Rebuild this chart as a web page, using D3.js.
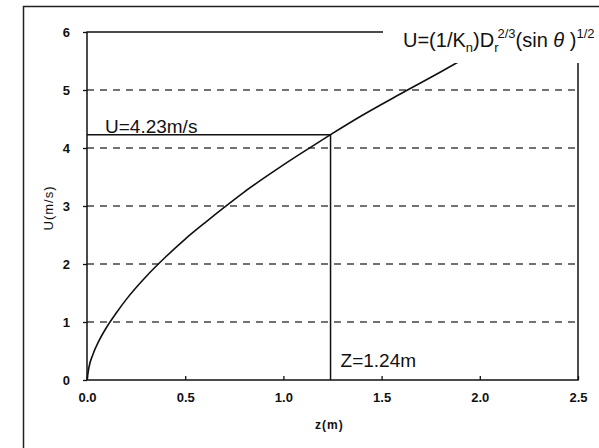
<!DOCTYPE html>
<html>
<head>
<meta charset="utf-8">
<script src="https://cdn.jsdelivr.net/npm/d3@7"></script>
<style>
  body { margin: 0; background: #fff; }
  svg { display: block; }
</style>
</head>
<body>
<div id="chart"></div>
<script>
// values
const zValues = [0, 0.01, 0.03, 0.06, 0.1, 0.15, 0.2, 0.3, 0.4, 0.5, 0.6, 0.7, 0.8, 0.9, 1.0, 1.1, 1.24, 1.4, 1.6, 1.8, 1.91];
const uValues = [0, 0.22, 0.44, 0.67, 0.91, 1.16, 1.39, 1.78, 2.12, 2.43, 2.71, 2.98, 3.24, 3.48, 3.71, 3.93, 4.23, 4.56, 4.94, 5.31, 5.52];
const xTicks = [0, 0.5, 1.0, 1.5, 2.0, 2.5];
const yTicks = [0, 1, 2, 3, 4, 5, 6];
const markZ = 1.24;
const markU = 4.23;

const W = 599, H = 448;
const margin = { top: 32, right: 21, bottom: 68, left: 87 };
const font = "Arial, 'Liberation Sans', sans-serif";

const svg = d3.select("#chart").append("svg").attr("width", W).attr("height", H);

// outer frame
svg.append("rect")
    .attr("x", 23.5).attr("y", 6.5).attr("width", W).attr("height", H)
    .attr("fill", "none").attr("stroke", "#222").attr("stroke-width", 1.5);

const x = d3.scaleLinear().domain([0, 2.5]).range([margin.left, W - margin.right]);
const y = d3.scaleLinear().domain([0, 6]).range([H - margin.bottom, margin.top]);

// dashed grid lines
svg.append("g").selectAll("line").data(yTicks.filter(d => d > 0 && d < 6)).join("line")
    .attr("x1", x(0)).attr("x2", x(2.5))
    .attr("y1", d => y(d)).attr("y2", d => y(d))
    .attr("stroke", "#444").attr("stroke-width", 1.3).attr("stroke-dasharray", "7,6");

// plot frame
svg.append("rect")
    .attr("x", x(0)).attr("y", y(6)).attr("width", x(2.5) - x(0)).attr("height", y(0) - y(6))
    .attr("fill", "none").attr("stroke", "#111").attr("stroke-width", 1.5);

// axes
const xAxis = svg.append("g").attr("transform", `translate(0,${y(0)})`)
    .call(d3.axisBottom(x).tickValues(xTicks).tickFormat(d3.format(".1f")).tickSizeInner(-4).tickSizeOuter(0).tickPadding(13));
const yAxis = svg.append("g").attr("transform", `translate(${x(0)},0)`)
    .call(d3.axisLeft(y).tickValues(yTicks).tickFormat(d3.format("d")).tickSizeInner(4).tickSizeOuter(0).tickPadding(13));
[xAxis, yAxis].forEach(a => {
    a.select(".domain").remove();
    a.selectAll("line").attr("stroke", "#111").attr("stroke-width", 1.3);
    a.selectAll("text").attr("font-family", font)
        .attr("font-size", 13).attr("font-weight", "bold").attr("fill", "#111");
});

// axis titles
svg.append("text")
    .attr("x", 315).attr("y", 429)
    .attr("font-family", font).attr("font-size", 12).attr("font-weight", "bold")
    .attr("letter-spacing", 1).attr("fill", "#111")
    .text("z(m)");
svg.append("text")
    .attr("transform", "translate(53,208) rotate(-90)")
    .attr("text-anchor", "middle")
    .attr("font-family", font).attr("font-size", 13)
    .attr("letter-spacing", 1).attr("fill", "#111")
    .text("U(m/s)");

// reference lines at the marked point
svg.append("path")
    .attr("d", `M${x(0)},${y(markU)}H${x(markZ)}V${y(0)}`)
    .attr("fill", "none").attr("stroke", "#111").attr("stroke-width", 1.5);

// curve
const points = zValues.map((z, i) => [z, uValues[i]]);
const line = d3.line().x(d => x(d[0])).y(d => y(d[1])).curve(d3.curveMonotoneX);
svg.append("path").datum(points)
    .attr("d", line)
    .attr("fill", "none").attr("stroke", "#111").attr("stroke-width", 1.6);

// labels
svg.append("text")
    .attr("x", x(0) + 18).attr("y", y(markU) - 2)
    .attr("font-family", font).attr("font-size", 19).attr("fill", "#111")
    .text(`U=${markU}m/s`);
svg.append("text")
    .attr("x", x(markZ) + 10).attr("y", y(0) - 13)
    .attr("font-family", font).attr("font-size", 19).attr("fill", "#111")
    .text(`Z=${markZ}m`);

// formula label with white backing that breaks the plot frame
const fg = svg.append("g");
const bg = fg.append("rect").attr("fill", "#fff");
const formula = fg.append("text")
    .attr("x", 403).attr("y", 47)
    .attr("font-family", font).attr("font-size", 20).attr("fill", "#111");
formula.append("tspan").text("U=(1/K");
formula.append("tspan").attr("font-size", 13).attr("dy", 5).text("n");
formula.append("tspan").attr("dy", -5).text(")D");
formula.append("tspan").attr("font-size", 13).attr("dy", 5).text("r");
formula.append("tspan").attr("font-size", 13).attr("dx", -1).attr("dy", -14).text("2/3");
formula.append("tspan").attr("dy", 9).text("(sin");
formula.append("tspan").attr("font-style", "italic").text(" θ ");
formula.append("tspan").text(")");
formula.append("tspan").attr("font-size", 13).attr("dy", -9).text("1/2");
const bb = formula.node().getBBox();
bg.attr("x", bb.x - 20).attr("y", y(6) - 4).attr("width", W - bb.x + 20).attr("height", bb.y + bb.height + 8 - (y(6) - 4));
</script>
</body>
</html>
